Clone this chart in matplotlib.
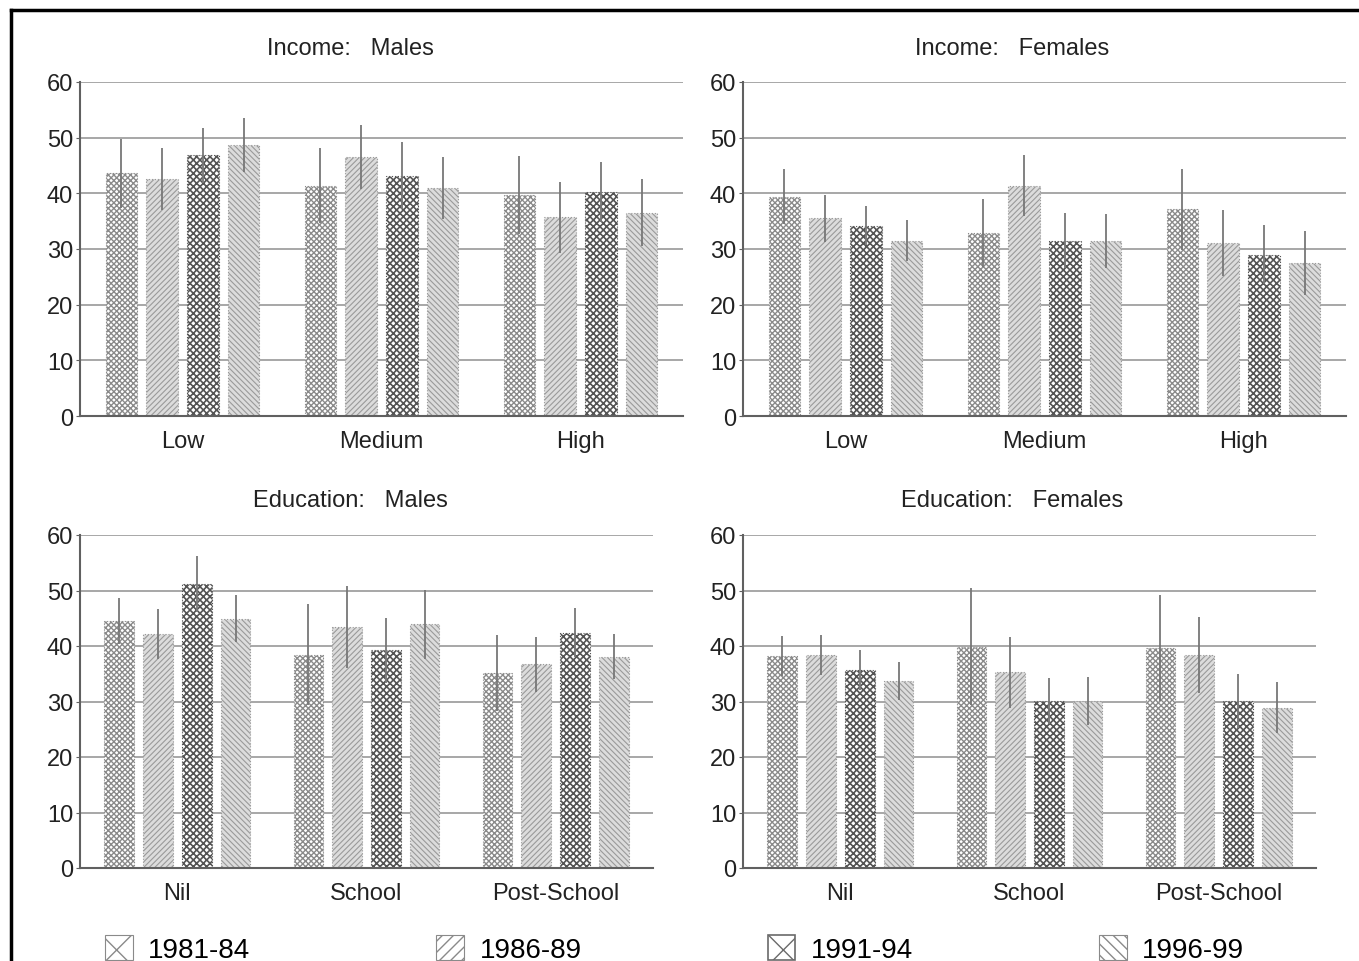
import matplotlib
matplotlib.use("Agg")
import matplotlib.pyplot as plt
from matplotlib.patches import Patch
from matplotlib.lines import Line2D
import numpy as np

plt.rcParams['font.family'] = ['Liberation Sans', 'DejaVu Sans']

periods = ["1981-84", "1986-89", "1991-94", "1996-99"]
income_cats = ["Low", "Medium", "High"]
educ_cats = ["Nil", "School", "Post-School"]

# values[period][category]
inc_m = [[43.6, 41.4, 39.7], [42.6, 46.5, 35.7], [46.8, 43.2, 40.2], [48.7, 41.0, 36.5]]
inc_m_err = [[6.2, 6.8, 7.0], [5.6, 5.7, 6.4], [4.9, 6.1, 5.4], [4.9, 5.6, 6.0]]
inc_f = [[39.4, 32.8, 37.1], [35.5, 41.4, 31.1], [34.2, 31.5, 29.0], [31.5, 31.4, 27.5]]
inc_f_err = [[4.9, 6.1, 7.2], [4.2, 5.5, 5.9], [3.5, 5.0, 5.3], [3.7, 4.8, 5.8]]
edu_m = [[44.5, 38.4, 35.1], [42.2, 43.5, 36.7], [51.2, 39.2, 42.4], [44.9, 43.9, 38.1]]
edu_m_err = [[4.2, 9.1, 6.8], [4.5, 7.4, 4.9], [5.1, 5.9, 4.4], [4.2, 6.2, 4.1]]
edu_f = [[38.2, 39.9, 39.6], [38.3, 35.3, 38.4], [35.6, 30.1, 30.1], [33.7, 30.1, 28.9]]
edu_f_err = [[3.6, 10.6, 9.5], [3.6, 6.4, 6.9], [3.6, 4.2, 4.9], [3.4, 4.4, 4.6]]

panels = [
    ("Income:   Males", income_cats, inc_m, inc_m_err),
    ("Income:   Females", income_cats, inc_f, inc_f_err),
    ("Education:   Males", educ_cats, edu_m, edu_m_err),
    ("Education:   Females", educ_cats, edu_f, edu_f_err),
]

W, H = 1359, 962
fig = plt.figure(figsize=(W / 100, H / 100), dpi=100)

# axes rectangles in pixels: left, top, right, bottom
rects = [(80, 83, 683, 417), (743, 83, 1346, 417),
         (80, 536, 653, 869), (743, 536, 1316, 869)]
title_pos = [(350, 49), (1012, 49), (350, 501), (1012, 501)]

styles = [
    dict(facecolor="white", edgecolor="#8a8a8a", hatch="xxxxxx", hlw=1.0),
    dict(facecolor="#dcdcdc", edgecolor="#9a9a9a", hatch="//////", hlw=0.8),
    dict(facecolor="white", edgecolor="#555555", hatch="xxxxx", hlw=1.2),
    dict(facecolor="#dcdcdc", edgecolor="#9a9a9a", hatch="\\\\\\\\\\\\", hlw=0.8),
]

spacing = 0.205
bw = 0.157

for (title, cats, vals, errs), (l, t, r, b), (tx, ty) in zip(panels, rects, title_pos):
    ax = fig.add_axes([l / W, 1 - b / H, (r - l) / W, (b - t) / H])
    x = np.arange(len(cats))
    for i, (v, e) in enumerate(zip(vals, errs)):
        st = styles[i]
        xs = x + (i - 1.5) * spacing
        bars = ax.bar(xs, v, width=bw, facecolor=st["facecolor"], edgecolor=st["edgecolor"],
                      hatch=st["hatch"], linewidth=0.8, linestyle=":", zorder=2)
        for p in bars:
            if hasattr(p, "set_hatch_linewidth"):
                p.set_hatch_linewidth(st["hlw"])
        ax.errorbar(xs, v, yerr=e, fmt="none", ecolor="#777777", elinewidth=1.3,
                    capsize=0, zorder=3)
    ax.set_xlim(-0.515, 2.515)
    ax.set_ylim(0, 60)
    ax.set_yticks(range(0, 61, 10))
    ax.set_xticks(x)
    ax.set_xticklabels(cats)
    ax.yaxis.grid(True, color="#a0a0a0", linewidth=1.3, zorder=0)
    ax.set_axisbelow(True)
    for s in ("top", "right"):
        ax.spines[s].set_visible(False)
    for s in ("left", "bottom"):
        ax.spines[s].set_color("#606060")
        ax.spines[s].set_linewidth(1.5)
    ax.tick_params(axis="y", labelsize=17, length=3, color="#606060", pad=2, labelcolor="#222222")
    ax.tick_params(axis="x", labelsize=17, length=0, pad=10, labelcolor="#222222")
    fig.text(tx / W, 1 - ty / H, title, ha="center", va="center", fontsize=17, color="#222222")

# legend
handles = [
    Patch(facecolor="white", edgecolor="#8a8a8a", hatch="x", linewidth=0.8),
    Patch(facecolor="white", edgecolor="#8a8a8a", hatch="///", linewidth=0.8),
    Patch(facecolor="white", edgecolor="#6a6a6a", hatch="x", linewidth=1.2),
    Patch(facecolor="white", edgecolor="#8a8a8a", hatch="\\\\\\", linewidth=0.8),
]
fig.legend(handles, periods, loc="upper left", bbox_to_anchor=(105 / W, 1 - 936 / H),
           ncol=4, frameon=False, fontsize=20, handlelength=1.0, handleheight=1.0,
           handletextpad=0.55, columnspacing=6.7, borderaxespad=0, borderpad=0)

# outer frame (left and top edges visible)
fig.add_artist(Line2D([11 / W, 11 / W], [0, 1 - 11 / H], color="black", linewidth=2.5,
                      transform=fig.transFigure))
fig.add_artist(Line2D([11 / W, 1], [1 - 11 / H, 1 - 11 / H], color="black", linewidth=2.5,
                      transform=fig.transFigure))

fig.savefig("out.png", dpi=100)
